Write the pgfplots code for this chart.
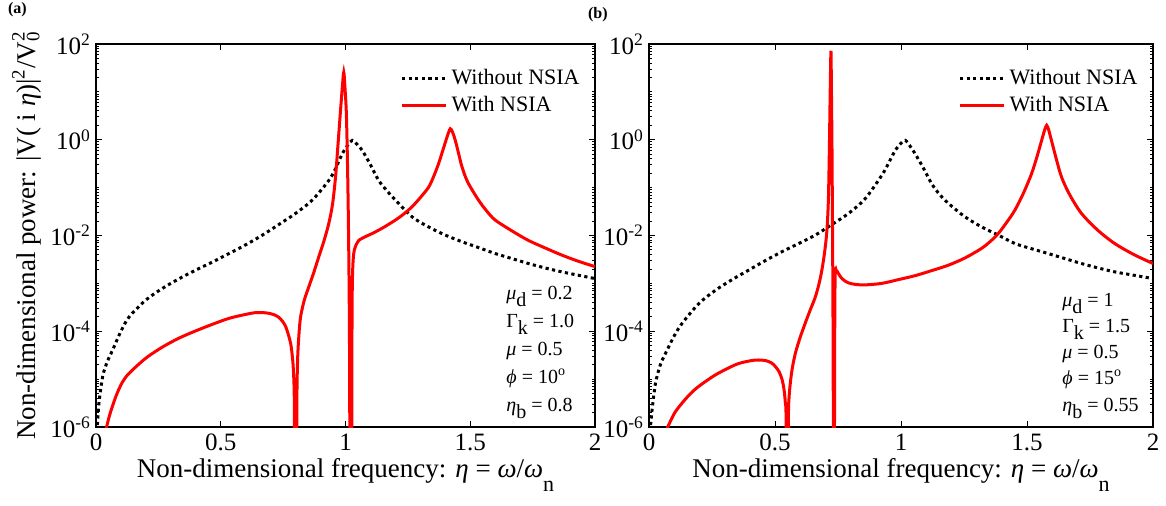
\documentclass[border=0pt]{standalone}
\usepackage{fontspec}
\setmainfont{Liberation Serif}
\usepackage{pgfplots}
\pgfplotsset{compat=1.18}

\pgfplotsset{
  panel/.style={
    scale only axis, height=191.5pt,
    xmin=0, xmax=2, ymin=1e-6, ymax=1e2,
    xtick={0,0.5,1,1.5,2}, xticklabels={0,0.5,1,1.5,2},
    ytick={1e-6,1e-4,1e-2,1,1e2},
    yticklabels={10\textsuperscript{-6},10\textsuperscript{-4},10\textsuperscript{-2},10\textsuperscript{0},10\textsuperscript{2}},
    minor ytick={2e-6,3e-6,4e-6,5e-6,6e-6,7e-6,8e-6,9e-6,1e-5,2e-5,3e-5,4e-5,5e-5,6e-5,7e-5,8e-5,9e-5,
      2e-4,3e-4,4e-4,5e-4,6e-4,7e-4,8e-4,9e-4,1e-3,2e-3,3e-3,4e-3,5e-3,6e-3,7e-3,8e-3,9e-3,
      2e-2,3e-2,4e-2,5e-2,6e-2,7e-2,8e-2,9e-2,1e-1,2e-1,3e-1,4e-1,5e-1,6e-1,7e-1,8e-1,9e-1,
      2,3,4,5,6,7,8,9,10,20,30,40,50,60,70,80,90},
    tick align=inside, major tick length=3pt, minor tick length=1.6pt,
    axis line style={line width=0.6pt},
    every tick/.style={black, line width=0.45pt},
    tick label style={font=\fontsize{12.5}{14}\selectfont},
    yticklabel style={xshift=1pt},
    legend style={draw=none, fill=none, font=\fontsize{11}{13}\selectfont,
      at={(axis description cs:0.99,0.955)}, anchor=north east, row sep=0pt},
    legend cell align=left,
    legend image code/.code={\draw[##1] (0pt,0pt) -- (22pt,0pt);},
    xlabel={Non-dimensional frequency: \textit{η} = \textit{ω}/\textit{ω}\raisebox{-1.1ex}{\fontsize{11}{11}\selectfont n}},
    xlabel style={font=\fontsize{13.5}{15}\selectfont, at={(axis description cs:0.5,-0.133)}, anchor=base},
  },
  nodsia/.style={black, line width=1.5pt, dash pattern=on 1.6pt off 1.7pt, smooth, tension=0.5},
  withnsia/.style={red, line width=1.5pt, smooth, tension=0.5},
}

\begin{document}
\begin{tikzpicture}
\useasboundingbox (0,0) rectangle (583pt,252.5pt);

\begin{semilogyaxis}[panel, width=249.5pt, at={(48pt,39pt)}, anchor=south west,
  ylabel={Non-dimensional power: |V( i \textit{η})|\textsuperscript{2}/V\rlap{\textsuperscript{2}}\textsubscript{0}},
  ylabel style={font=\fontsize{13.5}{15}\selectfont, at={(axis description cs:-0.122,0.5)}, anchor=base},
]
\addplot[nodsia] coordinates {
 (0.004,8e-7) (0.012,3.2e-6) (0.027,1.15e-5) (0.045,2.3e-5) (0.067,4.1e-5) (0.1,1.0e-4)
 (0.133,2.0e-4) (0.2,4.5e-4) (0.267,7.9e-4) (0.333,1.25e-3) (0.4,1.9e-3) (0.467,2.8e-3)
 (0.533,4.2e-3) (0.6,6.4e-3) (0.667,1.02e-2) (0.733,1.7e-2) (0.8,2.9e-2) (0.867,5.5e-2)
 (0.933,0.141) (0.96,0.25) (0.987,0.51) (1.01,0.78) (1.027,0.97) (1.045,0.82) (1.067,0.60)
 (1.1,0.3) (1.133,0.141) (1.167,0.085) (1.2,0.055) (1.267,0.0245) (1.333,0.0151)
 (1.4,0.0102) (1.467,7.4e-3) (1.533,5.6e-3) (1.6,4.2e-3) (1.667,3.3e-3) (1.733,2.6e-3)
 (1.8,2.1e-3) (1.867,1.74e-3) (1.933,1.48e-3) (2.0,1.26e-3)
};
\addlegendentry{Without NSIA}
\addplot[withnsia] coordinates {
 (0.038,8e-7) (0.055,1.8e-6) (0.08,4.4e-6) (0.105,8.5e-6) (0.133,1.33e-5) (0.2,2.75e-5)
 (0.267,4.7e-5) (0.333,7.2e-5) (0.4,1.02e-4) (0.467,1.4e-4) (0.533,1.86e-4) (0.6,2.25e-4)
 (0.64,2.45e-4) (0.67,2.45e-4) (0.693,2.37e-4) (0.715,2.2e-4) (0.733,1.95e-4) (0.748,1.6e-4)
 (0.76,1.26e-4) (0.771,8.5e-5) (0.78,5.6e-5) (0.786,3.3e-5) (0.791,1.6e-5) (0.795,3e-6)
 (0.797,1e-8) (0.803,1e-8) (0.805,3e-6) (0.808,2.5e-5) (0.813,8e-5) (0.82,2.0e-4)
 (0.835,4.5e-4) (0.853,8.5e-4) (0.873,1.7e-3) (0.893,3.6e-3) (0.913,7.5e-3) (0.933,1.78e-2)
 (0.948,4.5e-2) (0.96,0.166) (0.97,0.8) (0.98,4.07) (0.987,12) (0.993,25.7) (0.998,12)
 (1.003,4.07) (1.007,0.6) (1.011,0.034) (1.014,1.5e-3) (1.016,5.6e-5) (1.019,1e-8)
 (1.024,1e-8) (1.026,1e-4) (1.028,1.4e-3) (1.033,4.2e-3) (1.043,6.5e-3) (1.053,7.9e-3)
 (1.08,9.5e-3) (1.107,1.1e-2) (1.15,1.45e-2) (1.2,2.1e-2) (1.233,2.8e-2) (1.267,4.0e-2)
 (1.3,6.2e-2) (1.333,0.102) (1.353,0.17) (1.373,0.316) (1.39,0.6) (1.407,1.14) (1.42,1.70)
 (1.43,1.4) (1.44,0.97) (1.452,0.55) (1.467,0.27) (1.49,0.13) (1.533,0.055) (1.567,0.032)
 (1.6,0.021) (1.667,0.0125) (1.733,7.9e-3) (1.8,5.5e-3) (1.867,3.9e-3) (1.933,2.9e-3)
 (2.0,2.24e-3)
};
\addlegendentry{With NSIA}
\end{semilogyaxis}

\begin{semilogyaxis}[panel, width=252pt, at={(324.5pt,39pt)}, anchor=south west]
\addplot[nodsia] coordinates {
 (0.004,8e-7) (0.013,2.5e-6) (0.026,8.3e-6) (0.045,2.0e-5) (0.066,3.5e-5) (0.1,8.0e-5)
 (0.132,1.48e-4) (0.198,3.8e-4) (0.264,7.2e-4) (0.33,1.2e-3) (0.396,1.9e-3) (0.462,3.0e-3)
 (0.528,4.6e-3) (0.594,6.8e-3) (0.66,1.02e-2) (0.726,1.7e-2) (0.792,2.9e-2) (0.858,5.9e-2)
 (0.924,0.182) (0.95,0.32) (0.977,0.60) (1.0,0.85) (1.017,0.97) (1.035,0.75) (1.056,0.51)
 (1.09,0.25) (1.122,0.12) (1.155,0.07) (1.188,0.047) (1.254,0.0245) (1.32,0.0151)
 (1.386,0.0102) (1.452,6.8e-3) (1.518,5.3e-3) (1.584,4.2e-3) (1.65,3.3e-3) (1.716,2.6e-3)
 (1.782,2.1e-3) (1.848,1.74e-3) (1.924,1.48e-3) (2.0,1.26e-3)
};
\addlegendentry{Without NSIA}
\addplot[withnsia] coordinates {
 (0.066,8e-7) (0.1,1.9e-6) (0.132,3.2e-6) (0.165,5e-6) (0.198,7.1e-6) (0.264,1.23e-5)
 (0.343,2.0e-5) (0.39,2.35e-5) (0.422,2.5e-5) (0.445,2.5e-5) (0.462,2.45e-5) (0.485,2.2e-5)
 (0.502,1.82e-5) (0.517,1.4e-5) (0.528,9.8e-6) (0.536,6e-6) (0.541,3.2e-6) (0.544,1.5e-6)
 (0.546,1e-8) (0.550,1e-8) (0.553,1.5e-6) (0.557,5.1e-6) (0.567,1.5e-5) (0.581,3.5e-5)
 (0.6,7.5e-5) (0.62,1.48e-4) (0.64,2.8e-4) (0.66,5.2e-4) (0.675,1.0e-3) (0.686,1.9e-3)
 (0.697,4.5e-3) (0.706,1.29e-2) (0.712,0.06) (0.716,0.83) (0.719,10) (0.722,72) (0.724,10)
 (0.726,0.83) (0.728,0.02) (0.730,2.8e-4) (0.733,1e-8) (0.735,1e-8) (0.737,1e-4)
 (0.739,1.62e-3) (0.743,1.85e-3) (0.746,1.82e-3) (0.755,1.5e-3) (0.766,1.26e-3)
 (0.78,1.1e-3) (0.792,1.02e-3) (0.82,9.5e-4) (0.858,9.3e-4) (0.924,1.0e-3) (0.99,1.2e-3)
 (1.056,1.45e-3) (1.122,1.85e-3) (1.188,2.4e-3) (1.254,3.4e-3) (1.32,5.4e-3) (1.36,8e-3)
 (1.386,1.1e-2) (1.42,1.9e-2) (1.452,3.4e-2) (1.485,7.5e-2) (1.518,0.195) (1.54,0.45)
 (1.558,0.97) (1.57,1.6) (1.578,2.0) (1.586,1.6) (1.597,0.97) (1.615,0.42) (1.637,0.166)
 (1.67,0.07) (1.716,0.029) (1.78,0.013) (1.848,6.8e-3) (1.924,4.0e-3) (2.0,2.6e-3)
};
\addlegendentry{With NSIA}
\end{semilogyaxis}

\node[anchor=west, font=\bfseries\fontsize{8}{9}\selectfont] at (0.5pt,247.5pt) {(a)};
\node[anchor=west, font=\bfseries\fontsize{8}{9}\selectfont] at (290.5pt,245pt) {(b)};

\begin{scope}[every node/.style={anchor=base west, inner sep=0pt, font=\fontsize{10}{12}\selectfont}]
\node at (253pt,103pt) {\textit{μ}\raisebox{-0.85ex}{d} = 0.2};
\node at (253pt,89pt) {Γ\raisebox{-0.85ex}{k} = 1.0};
\node at (253pt,75pt) {\textit{μ} = 0.5};
\node at (253pt,61pt) {\textit{ϕ} = 10\textsuperscript{o}};
\node at (253pt,47pt) {\textit{η}\raisebox{-0.85ex}{b} = 0.8};
\node at (531pt,99.5pt) {\textit{μ}\raisebox{-0.85ex}{d} = 1};
\node at (531pt,86.5pt) {Γ\raisebox{-0.85ex}{k} = 1.5};
\node at (531pt,73.5pt) {\textit{μ} = 0.5};
\node at (531pt,60.5pt) {\textit{ϕ} = 15\textsuperscript{o}};
\node at (531pt,47pt) {\textit{η}\raisebox{-0.85ex}{b} = 0.55};
\end{scope}
\end{tikzpicture}
\end{document}
